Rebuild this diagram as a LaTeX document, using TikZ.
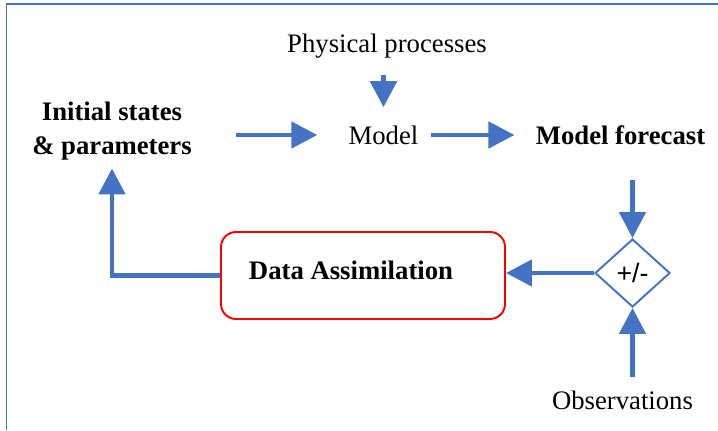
\documentclass[tikz,border=0pt]{standalone}
\usepackage{fontspec}
\setmainfont{Liberation Serif}
\newfontfamily\signfont{Liberation Sans}
\usetikzlibrary{positioning}
\usetikzlibrary{arrows.meta, shapes.geometric}
\definecolor{flowblue}{RGB}{68,114,196}

\begin{document}
\begin{tikzpicture}[
  every node/.style={inner sep=0pt, font=\fontsize{15.2}{19.3}\selectfont},
  heading/.style={font=\fontsize{15.2}{19.3}\selectfont\bfseries, align=center},
  flow/.style={line width=2.8pt, flowblue, -{Triangle[length=0.52cm, width=0.52cm]}},
  dabox/.style={draw=red, line width=1.1pt, rounded corners=0.3cm, minimum width=5.68cm, minimum height=1.74cm, text depth=0.22cm},
  pmbox/.style={diamond, draw=flowblue, line width=1.1pt, minimum width=1.5cm, minimum height=1.36cm, font=\fontsize{15.2}{19}\signfont}
]
  \useasboundingbox (0,0) rectangle (14.36,8.6);
  \draw[flowblue, line width=1.1pt] (0.13,0) -- (0.13,8.52) -- (14.36,8.52); % frame

  \node (phys) at (7.74,7.68) {Physical processes};
  \node (model) at (7.67,5.90) {Model};
  \node[heading] (init) at (2.24,5.98) {Initial states\\\& parameters};
  \node[heading] (forecast) at (12.41,5.90) {Model forecast};
  \node[pmbox] (pm) at (12.65,3.14) {+/-};
  \node[dabox, heading] (da) at (7.26,3.09) {Data Assimilation\hspace*{0.48cm}};
  \node (obs) at (12.45,0.60) {Observations};

  \draw[flow, shorten <=0.34cm, shorten >=0.36cm] (phys.south -| model.north) -- (model.north); % processes feed the model
  \draw[flow, shorten <=0.88cm, shorten >=0.62cm] (init.east |- model.west) -- (model.west); % start from initial states
  \draw[flow, shorten <=0.24cm, shorten >=0.42cm] (model.east) -- (forecast.west); % model run
  \draw[flow, shorten <=0.7cm] (forecast.south -| pm.north) -- (pm.north); % forecast to comparison
  \draw[flow, shorten <=0.26cm] (obs.north -| pm.south) -- (pm.south); % observations to comparison
  \draw[flow] (pm.west) -- (da.east |- pm.west); % difference to assimilation
  \draw[flow, shorten >=0.16cm] (da.west) -| (init.south); % update initial states

\end{tikzpicture}
\end{document}
